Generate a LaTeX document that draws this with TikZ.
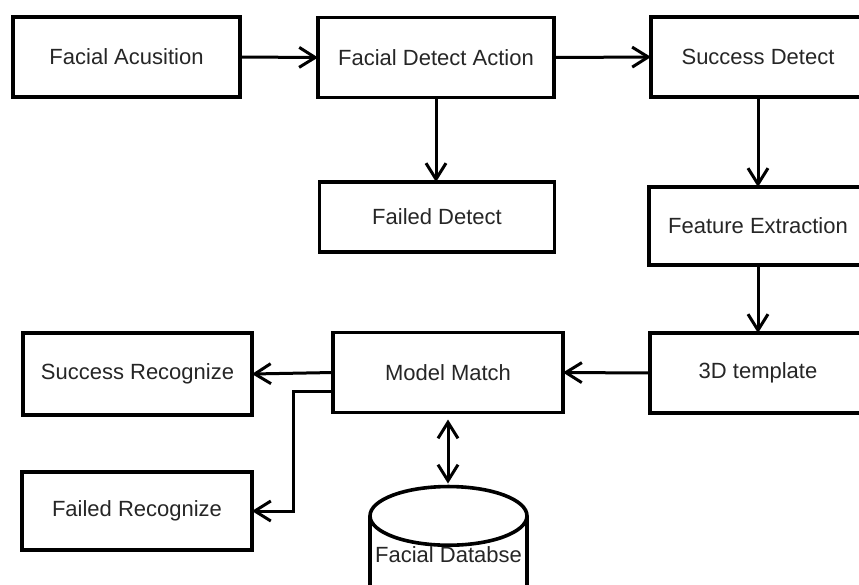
\documentclass[tikz,border=0pt]{standalone}
\usepackage{fontspec}
\setmainfont{Liberation Sans}
\usetikzlibrary{arrows.meta}
\usetikzlibrary{shapes.geometric}

\tikzset{
    stage/.style={draw, rectangle, line width=1.8pt, inner sep=0pt, outer sep=0pt,
        minimum height=40pt, font=\fontsize{11}{13}\selectfont, text=black!85},
    barb/.tip={Straight Barb[length=8pt, width=10pt, line width=1.5pt]},
    flow/.style={line width=1.5pt, -barb},
}

\begin{document}
\begin{tikzpicture}[x=0.5pt, y=-0.5pt]
    \useasboundingbox (0,0) rectangle (859,585);
    \clip (0,0) rectangle (859,585);
    \fill[white] (0,0) rectangle (859,585);
    % top row
    \node[stage, minimum width=113.5pt] at (126.5,57) (acq) {Facial Acusition};
    \node[stage, minimum width=118pt] at (436,57.5) (detect) {Facial Detect Action};
    \node[stage, minimum width=107pt] at (758,57) (sdetect) {Success Detect};
    % second row
    \node[stage, minimum width=117.5pt, minimum height=35pt] at (437,217) (fdetect) {Failed Detect};
    \node[stage, minimum width=109pt, minimum height=39pt] at (758,226) (feature) {Feature Extraction};
    % third row
    \node[stage, minimum width=108pt] at (758,373) (templ) {3D template};
    \node[stage, minimum width=115pt] at (448,372.5) (model) {Model Match};
    \node[stage, minimum width=114.5pt, minimum height=41pt] at (137.5,374) (srec) {Success Recognize};
    \node[stage, minimum width=115pt, minimum height=39pt] at (137,511) (frec) {Failed Recognize};
    % database runs off the bottom edge
    \node[draw, cylinder, shape border rotate=90, aspect=0.4, line width=1.8pt,
        minimum width=78.5pt, minimum height=60pt, inner sep=0pt, outer sep=0pt,
        font=\fontsize{11}{13}\selectfont, text=black!85] at (448.5,576) (db) {\raisebox{21pt}{Facial Databse}};

    \draw[flow] (acq.east) -- (detect.west);
    \draw[flow] (detect.east) -- (sdetect.west);
    \draw[flow] (detect.south) -- (detect.south |- fdetect.north);
    \draw[flow] (sdetect.south) -- (feature.north);
    \draw[flow] (feature.south) -- (templ.north);
    \draw[flow] (templ.west) -- (model.east);
    \draw[flow] (model.west) -- (srec.east);
    \draw[flow] ([yshift=-9.5pt]model.west) -- ++(-40,0) |- (frec.east);
    \draw[flow, barb-barb, shorten <=3.5pt, shorten >=1.5pt] (model.south) -- (model.south |- db.top);
\end{tikzpicture}
\end{document}
